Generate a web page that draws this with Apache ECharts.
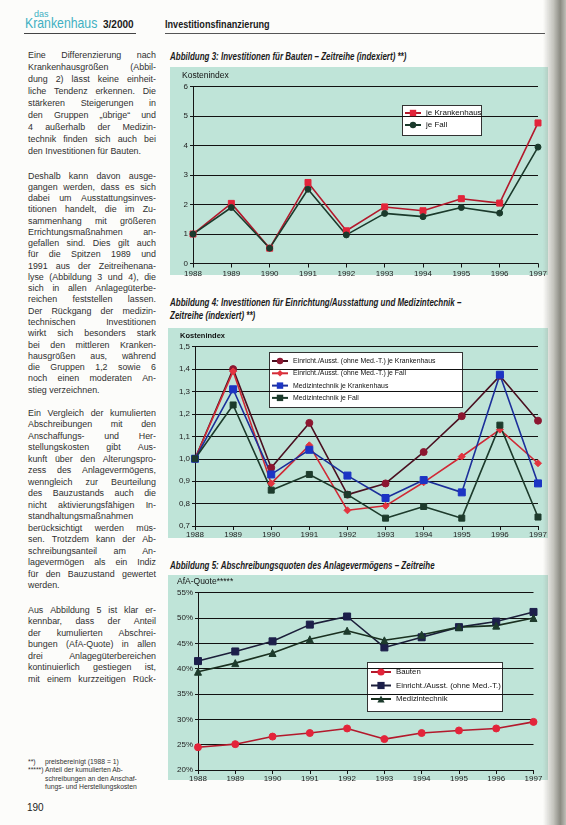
<!DOCTYPE html>
<html><head><meta charset="utf-8">
<script src="https://cdn.jsdelivr.net/npm/echarts/dist/echarts.min.js"></script>
<style>
html,body{margin:0;padding:0;}
body{width:566px;height:825px;overflow:hidden;background:#fcfcfa;position:relative;font-family:"Liberation Sans",Arial,sans-serif;color:#2a2a2a;}
.abs{position:absolute;}
.panel{position:absolute;background:#bfe4d8;}
.line{position:absolute;left:28px;width:128px;height:11px;line-height:11px;font-size:8.9px;white-space:nowrap;color:#303030;}
.just{display:flex;justify-content:space-between;}
.title{position:absolute;left:170px;font-weight:bold;font-style:italic;font-size:10px;white-space:nowrap;transform-origin:0 50%;color:#1a1a1a;line-height:12px;}
.fn{position:absolute;font-size:6.8px;white-space:nowrap;color:#333;line-height:8px;}
.lbox{position:absolute;background:#fff;border:1px solid #333;box-sizing:border-box;}
#chart{position:absolute;left:0;top:0;width:566px;height:825px;}
#curl{position:absolute;left:543px;top:0;width:23px;height:825px;background:linear-gradient(to right,rgba(200,200,190,0) 0%,rgba(150,150,140,0.55) 45%,rgba(110,110,100,0.8) 75%,rgba(150,150,140,0.6) 100%);}
</style></head>
<body>
<!-- header -->
<div class="abs" style="left:34px;top:9px;font-size:9px;color:#3fb0c2;font-weight:300;line-height:10px;">das</div>
<div class="abs fit" data-w="72" style="left:25px;top:15px;font-size:15px;color:#3fb0c2;font-weight:300;line-height:16px;white-space:nowrap;transform-origin:0 50%;">Krankenhaus</div>
<div class="abs fit" data-w="31" style="left:103px;top:18px;font-size:11px;font-weight:bold;line-height:12px;white-space:nowrap;transform-origin:0 50%;color:#1a1a1a;">3/2000</div>
<div class="abs fit" data-w="105" style="left:165px;top:18px;font-size:11px;font-weight:bold;line-height:12px;white-space:nowrap;transform-origin:0 50%;color:#1a1a1a;">Investitionsfinanzierung</div>
<div class="abs" style="left:24px;top:33px;width:112px;height:1px;background:#444;"></div>
<div class="abs" style="left:165px;top:33px;width:380px;height:1px;background:#555;"></div>

<!-- chart titles -->
<div class="title" style="top:51px;">Abbildung 3: Investitionen für Bauten – Zeitreihe (indexiert) **)</div>
<div class="title" style="top:297px;">Abbildung 4: Investitionen für Einrichtung/Ausstattung und Medizintechnik –</div>
<div class="title" style="top:310px;">Zeitreihe (indexiert) **)</div>
<div class="title" id="t5" style="top:560px;">Abbildung 5: Abschreibungsquoten des Anlagevermögens – Zeitreihe</div>

<!-- panels -->
<div class="panel" style="left:170px;top:67px;width:378px;height:208px;"></div>
<div class="panel" style="left:168px;top:328px;width:380px;height:210px;"></div>
<div class="panel" style="left:168px;top:575px;width:380px;height:205px;"></div>
<div class="lbox" style="left:402px;top:105px;width:80px;height:31px;"></div>
<div class="lbox" style="left:269px;top:352px;width:194px;height:56px;"></div>
<div class="lbox" style="left:367px;top:662px;width:136px;height:50px;"></div>

<div id="text"></div>
<div class="fn" style="left:28px;top:758px;">**)</div>
<div class="fn" style="left:45px;top:758px;">preisbereinigt (1988 = 1)</div>
<div class="fn" style="left:28px;top:766px;">*****)</div>
<div class="fn" style="left:45px;top:766px;">Anteil der kumulierten Ab-</div>
<div class="fn" style="left:45px;top:774.5px;">schreibungen an den Anschaf-</div>
<div class="fn" style="left:45px;top:783px;">fungs- und Herstellungskosten</div>
<div class="abs" style="left:27px;top:802px;font-size:10px;line-height:12px;color:#222;">190</div>

<div id="chart"></div>
<div id="curl"></div>

<script>
// ---------- data ----------
const years = ['1988','1989','1990','1991','1992','1993','1994','1995','1996','1997'];

// Abbildung 3
const bautenJeKrankenhaus = [1.00, 2.04, 0.52, 2.75, 1.11, 1.92, 1.79, 2.20, 2.05, 4.77];
const bautenJeFall        = [1.00, 1.90, 0.52, 2.52, 0.97, 1.70, 1.59, 1.90, 1.71, 3.95];

// Abbildung 4
const einrichtJeKrankenhaus = [1.00, 1.40, 0.96, 1.16, 0.84, 0.89, 1.03, 1.19, 1.37, 1.17];
const einrichtJeFall        = [1.00, 1.39, 0.89, 1.06, 0.77, 0.79, 0.895, 1.01, 1.13, 0.98];
const medJeKrankenhaus      = [1.00, 1.31, 0.93, 1.04, 0.925, 0.825, 0.905, 0.85, 1.375, 0.89];
const medJeFall             = [1.00, 1.24, 0.86, 0.93, 0.84, 0.735, 0.787, 0.735, 1.15, 0.74];

// Abbildung 5 (AfA-Quote in %)
const afaBauten   = [24.5, 25.1, 26.6, 27.3, 28.2, 26.1, 27.3, 27.8, 28.2, 29.5];
const afaEinricht = [41.5, 43.4, 45.4, 48.7, 50.3, 44.2, 46.2, 48.2, 49.3, 51.2];
const afaMedizin  = [39.4, 41.1, 43.1, 45.8, 47.5, 45.6, 46.7, 48.2, 48.5, 50.0];

// axis ranges / tick labels
const y1Range = {min:0, max:6, interval:1};
const y2Range = {min:0.7, max:1.5, interval:0.1};
const y3Range = {min:20, max:55, interval:5};

// ---------- body text ----------
const paragraphs = [
 {top:55, lh:12.1, lines:[
  'Eine Differenzierung nach','Krankenhausgrößen (Abbil-','dung 2) lässt keine einheit-','liche Tendenz erkennen. Die',
  'stärkeren Steigerungen in','den Gruppen „übrige“ und','4 außerhalb der Medizin-','technik finden sich auch bei',
  'den Investitionen für Bauten.']},
 {top:176, lh:11.27, lines:[
  'Deshalb kann davon ausge-','gangen werden, dass es sich','dabei um Ausstattungsinves-','titionen handelt, die im Zu-',
  'sammenhang mit größeren','Errichtungsmaßnahmen an-','gefallen sind. Dies gilt auch','für die Spitzen 1989 und',
  '1991 aus der Zeitreihenana-','lyse (Abbildung 3 und 4), die','sich in allen Anlagegüterbe-','reichen feststellen lassen.',
  'Der Rückgang der medizin-','technischen Investitionen','wirkt sich besonders stark','bei den mittleren Kranken-',
  'hausgrößen aus, während','die Gruppen 1,2 sowie 6','noch einen moderaten An-','stieg verzeichnen.']},
 {top:413, lh:11.53, lines:[
  'Ein Vergleich der kumulierten','Abschreibungen mit den','Anschaffungs- und Her-','stellungskosten gibt Aus-',
  'kunft über den Alterungspro-','zess des Anlagevermögens,','wenngleich zur Beurteilung','des Bauzustands auch die',
  'nicht aktivierungsfähigen In-','standhaltungsmaßnahmen','berücksichtigt werden müs-','sen. Trotzdem kann der Ab-',
  'schreibungsanteil am An-','lagevermögen als ein Indiz','für den Bauzustand gewertet','werden.']},
 {top:610, lh:11.5, lines:[
  'Aus Abbildung 5 ist klar er-','kennbar, dass der Anteil','der kumulierten Abschrei-','bungen (AfA-Quote) in allen',
  'drei Anlagegüterbereichen','kontinuierlich gestiegen ist,','mit einem kurzzeitigen Rück-']}
];
const textHost = document.getElementById('text');
paragraphs.forEach((p, pi) => {
  p.lines.forEach((ln, i) => {
    const d = document.createElement('div');
    d.className = 'line';
    d.style.top = (p.top + i * p.lh - 5.5) + 'px';
    const isLast = (i === p.lines.length - 1) && pi !== 3;
    if (!isLast) {
      d.classList.add('just');
      ln.split(' ').forEach(w => { const s = document.createElement('span'); s.textContent = w; d.appendChild(s); });
    } else d.textContent = ln;
    textHost.appendChild(d);
  });
});

// fit header items
document.querySelectorAll('.fit').forEach(el => {
  const w = el.scrollWidth; el.style.transform = 'scaleX(' + (parseFloat(el.dataset.w) / w) + ')';
});
const t5 = document.getElementById('t5');
const ts = 265 / t5.scrollWidth;
document.querySelectorAll('.title').forEach(el => el.style.transform = 'scaleX(' + ts + ')');

// ---------- chart ----------
const font = 'Liberation Sans, Arial, sans-serif';
const axisColor = '#151515';
function xAx(i, margin) {
  return {type:'category', gridIndex:i, data:years, boundaryGap:false,
    axisLine:{show:true, lineStyle:{color:axisColor, width:1}},
    axisTick:{show:true, length:4, inside:false, lineStyle:{color:axisColor}},
    axisLabel:{fontFamily:font, fontSize:8, color:'#222', margin:margin},
    splitLine:{show:false}};
}
function yAx(i, r, fmt) {
  return Object.assign({type:'value', gridIndex:i,
    axisLine:{show:true, lineStyle:{color:axisColor, width:1}},
    axisTick:{show:true, length:3, lineStyle:{color:axisColor}},
    axisLabel:{fontFamily:font, fontSize:8, color:'#222', margin:5, formatter:fmt},
    splitLine:{show:true, lineStyle:{color:'#111', width:1}}}, r);
}
function ser(name, idx, data, symbol, size, mcolor, lcolor) {
  return {name:name, type:'line', xAxisIndex:idx, yAxisIndex:idx, data:data,
    symbol:symbol, symbolSize:size, showSymbol:true,
    itemStyle:{color:mcolor, borderColor:mcolor},
    lineStyle:{color:lcolor, width:1.6}, emphasis:{disabled:true}};
}
const n1 = ['je Krankenhaus','je Fall'];
const n2 = ['Einricht./Ausst. (ohne Med.-T.) je Krankenhaus','Einricht./Ausst. (ohne Med.-T.) je Fall','Medizintechnik je Krankenhaus','Medizintechnik je Fall'];
const n3 = ['Bauten','Einricht./Ausst. (ohne Med.-T.)','Medizintechnik'];
const legTxt = (fs) => ({fontFamily:font, fontSize:fs, color:'#111'});

const chart = echarts.init(document.getElementById('chart'), null, {renderer:'canvas'});
chart.setOption({
  animation:false,
  grid:[
    {left:193, right:28, top:86.7, bottom:561.5},
    {left:195, right:28, top:346.7, bottom:299},
    {left:198, right:32.5, top:592.7, bottom:55}
  ],
  xAxis:[xAx(0,6), xAx(1,5), xAx(2,5)],
  yAxis:[
    yAx(0, y1Range, v => String(v)),
    yAx(1, y2Range, v => v.toFixed(1).replace('.', ',')),
    yAx(2, y3Range, v => v + '%')
  ],
  legend:[
    {data:n1, orient:'vertical', left:404, top:109, itemGap:4, itemWidth:16, itemHeight:8, padding:0, textStyle:legTxt(8), selectedMode:false},
    {data:n2, orient:'vertical', left:271, top:357.5, itemGap:5.3, itemWidth:16, itemHeight:8, padding:0, textStyle:legTxt(6.9), selectedMode:false},
    {data:n3, orient:'vertical', left:370, top:668, itemGap:5.5, itemWidth:20, itemHeight:9, padding:0, textStyle:legTxt(7.8), selectedMode:false}
  ],
  graphic:[
    {type:'text', left:182, top:71, style:{text:'Kostenindex', font:'8.5px ' + font, fill:'#111'}},
    {type:'text', left:180, top:332, style:{text:'Kostenindex', font:'bold 7.5px ' + font, fill:'#111'}},
    {type:'text', left:177, top:577, style:{text:'AfA-Quote*****', font:'8.5px ' + font, fill:'#111'}}
  ],
  series:[
    ser(n1[0], 0, bautenJeKrankenhaus, 'rect', 6, '#e3243a', '#b3192c'),
    ser(n1[1], 0, bautenJeFall, 'circle', 6, '#1b3a2c', '#1b3a2c'),
    ser(n2[0], 1, einrichtJeKrankenhaus, 'circle', 7, '#8c1630', '#4a1020'),
    ser(n2[1], 1, einrichtJeFall, 'diamond', 7, '#e3343f', '#d02a36'),
    ser(n2[2], 1, medJeKrankenhaus, 'rect', 7, '#1c34c4', '#1c2f9a'),
    ser(n2[3], 1, medJeFall, 'rect', 6, '#1d3b2c', '#1d3b2c'),
    ser(n3[0], 2, afaBauten, 'circle', 7, '#e3243a', '#b3192c'),
    ser(n3[1], 2, afaEinricht, 'rect', 7, '#1c1f4a', '#1c1f3a'),
    ser(n3[2], 2, afaMedizin, 'triangle', 7, '#1d3b2c', '#1a3020')
  ]
});
</script>
</body></html>
